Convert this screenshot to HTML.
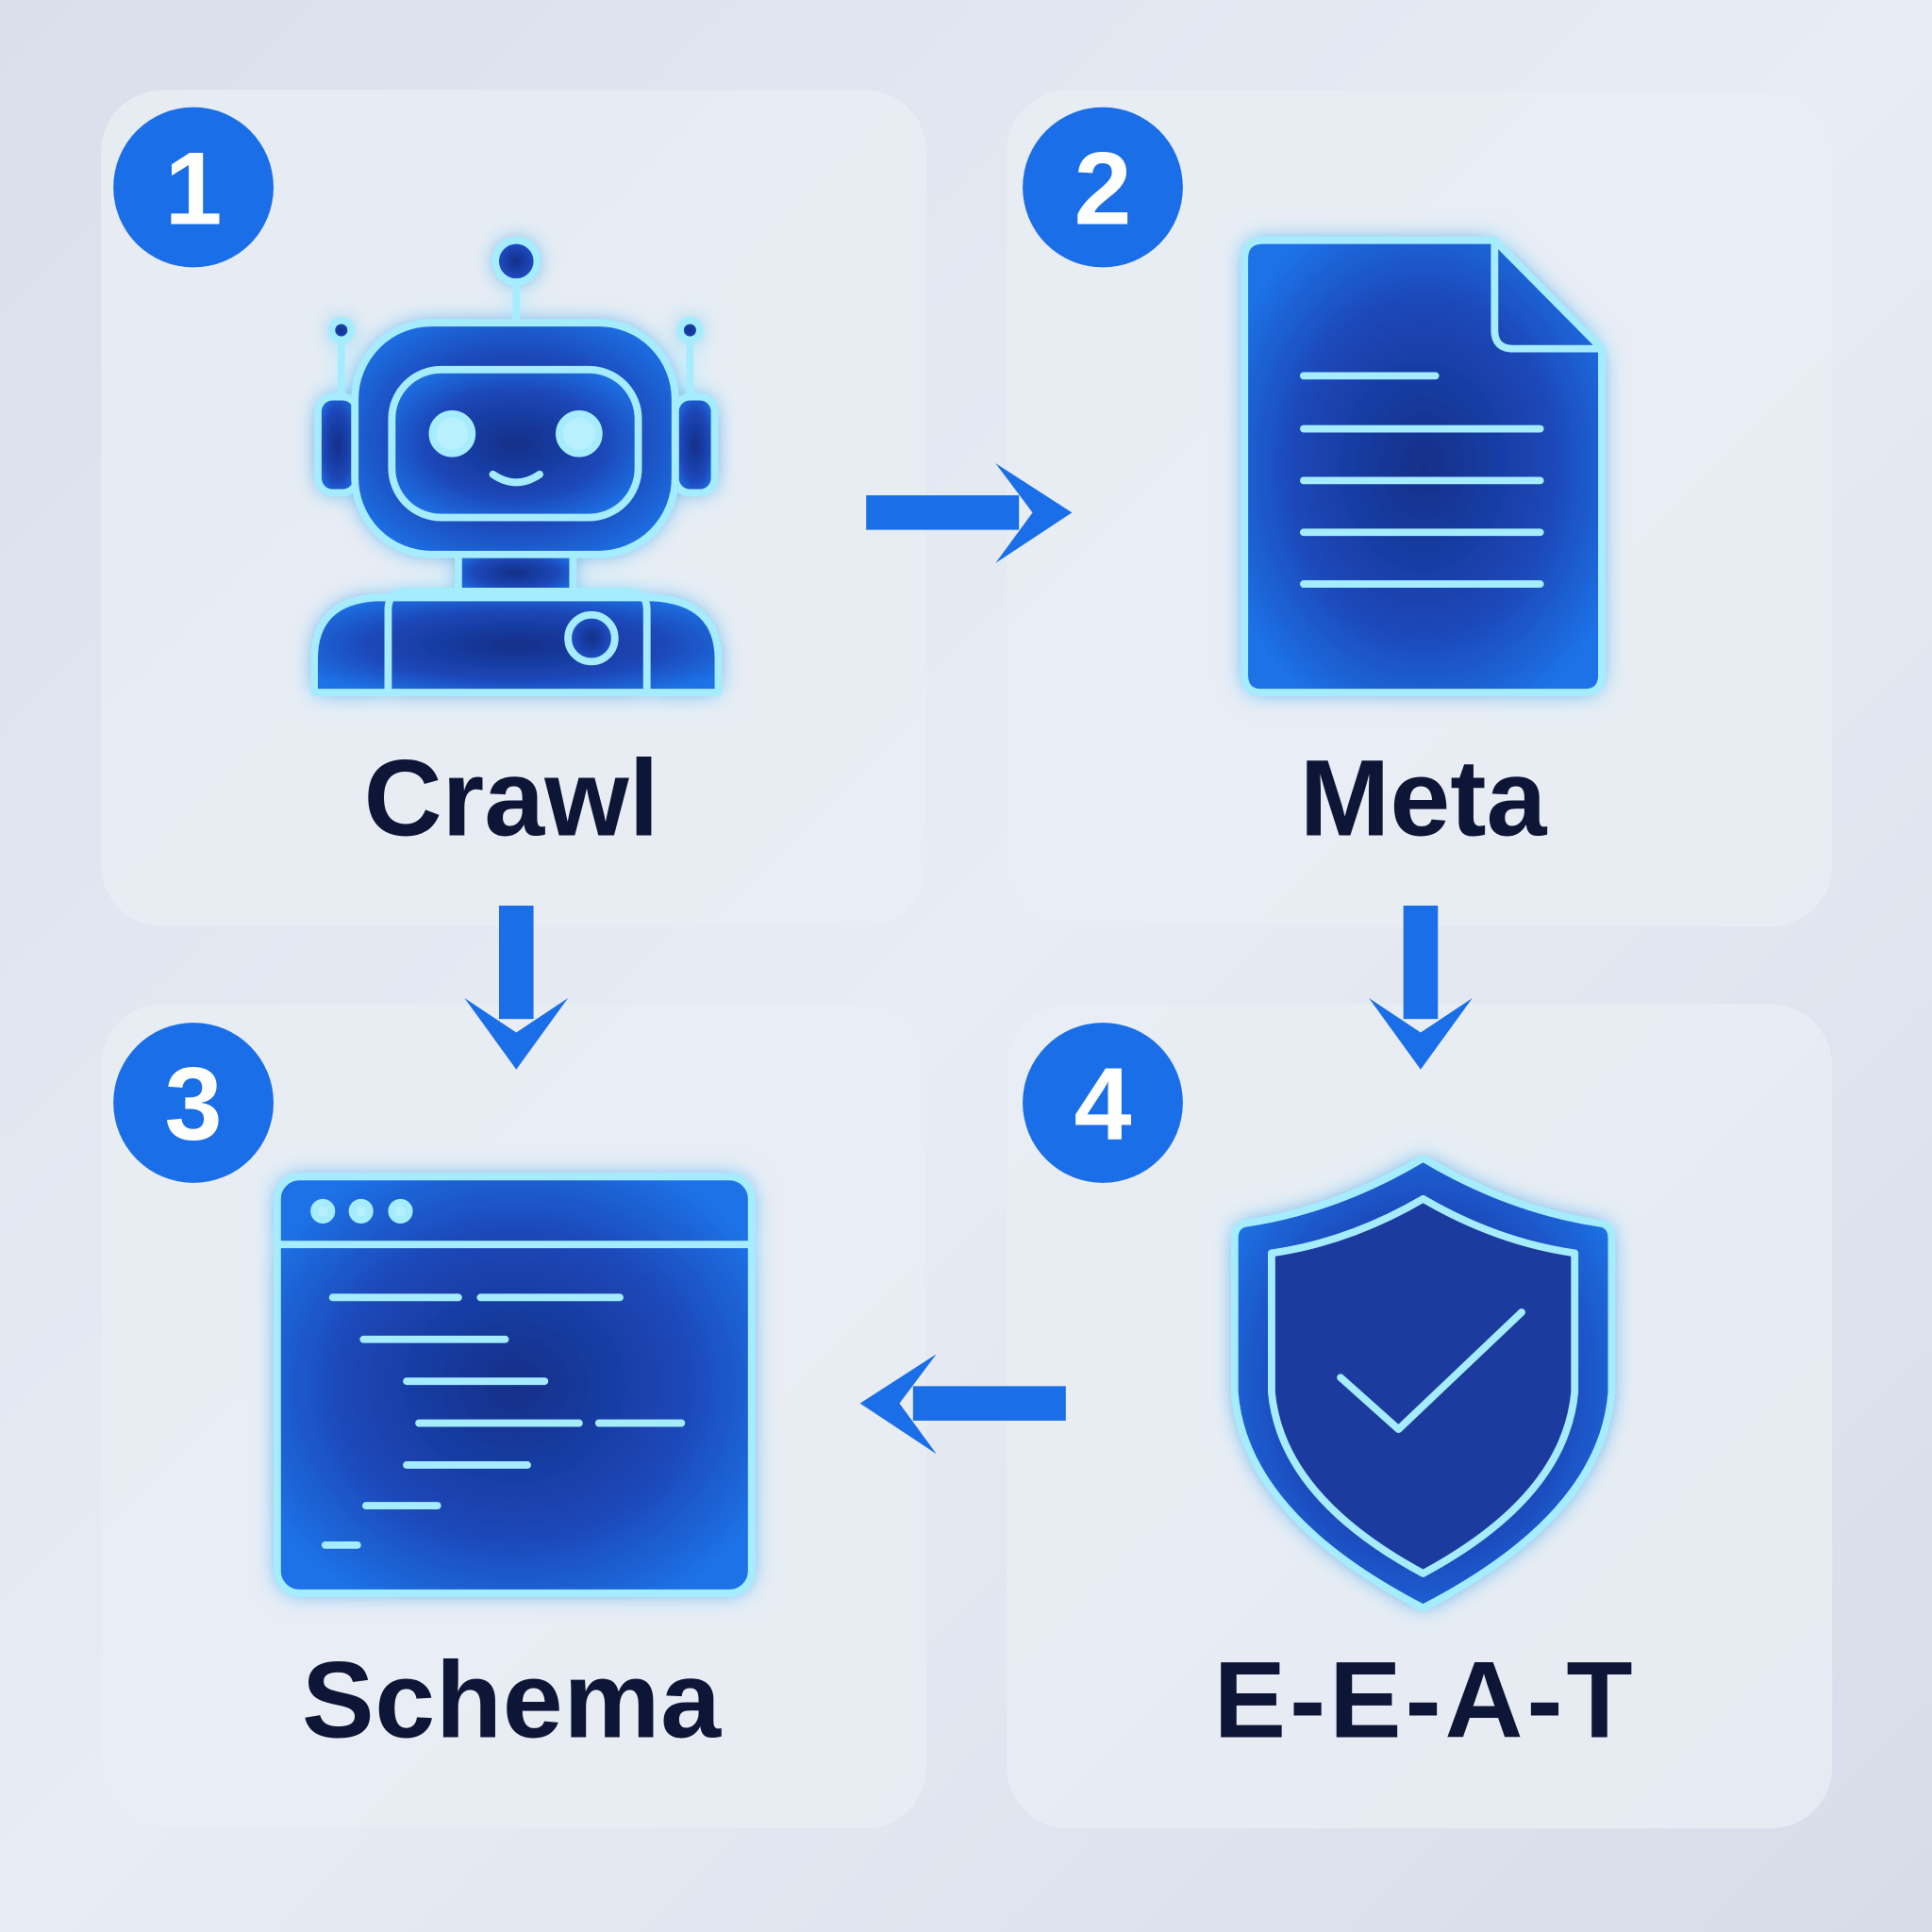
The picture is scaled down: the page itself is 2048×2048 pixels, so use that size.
<!DOCTYPE html>
<html><head><meta charset="utf-8"><style>
html,body{margin:0;padding:0;width:2048px;height:2048px;overflow:hidden;background:#dfe4ee}
svg{display:block}
</style></head><body>
<svg width="2048" height="2048" viewBox="0 0 1568 1568" xmlns="http://www.w3.org/2000/svg">
<defs>
<linearGradient id="bg" x1="0" y1="0" x2="1" y2="1">
<stop offset="0" stop-color="#d9dfeb"/><stop offset="0.5" stop-color="#e8ecf4"/><stop offset="1" stop-color="#d6dce8"/>
</linearGradient>
<radialGradient id="fill" cx="0.5" cy="0.5" r="0.6">
<stop offset="0" stop-color="#142f88"/><stop offset="0.6" stop-color="#1c47b8"/><stop offset="1" stop-color="#1a72e6"/>
</radialGradient>
<filter id="glow" x="-30%" y="-30%" width="160%" height="160%">
<feGaussianBlur in="SourceGraphic" stdDeviation="9" result="b"/>
<feMerge><feMergeNode in="b"/><feMergeNode in="SourceGraphic"/></feMerge>
</filter>
</defs>
<rect width="1568" height="1568" fill="url(#bg)"/>
<g fill="#e9edf5" opacity="0.85">
<rect x="82" y="73" width="670" height="679" rx="50"/>
<rect x="817" y="73" width="670" height="679" rx="50"/>
<rect x="82" y="815" width="670" height="669" rx="50"/>
<rect x="817" y="815" width="670" height="669" rx="50"/>
</g>

<g fill="#1a6ee8">
<circle cx="157" cy="152" r="65"/><circle cx="895" cy="152" r="65"/>
<circle cx="157" cy="895" r="65"/><circle cx="895" cy="895" r="65"/>
</g>
<g fill="#fff" font-family="Liberation Sans, sans-serif" font-weight="bold" font-size="84" text-anchor="middle">
<text x="157" y="182">1</text><text x="895" y="182">2</text>
<text x="157" y="925">3</text><text x="895" y="925">4</text>
</g>

<g fill="#0d1637" font-family="Liberation Sans, sans-serif" font-weight="bold" font-size="88" text-anchor="middle">
<text x="415" y="678">Crawl</text>
<text x="1155" y="678">Meta</text>
<text x="415" y="1410" textLength="340">Schema</text>
<text x="1155" y="1410" textLength="340">E-E-A-T</text>
</g>

<g fill="#1a6ee8">
<rect x="703" y="402" width="124" height="28"/>
<polygon points="808,376 870,416 808,457 838,416"/>
<rect x="405" y="735" width="28" height="92"/>
<polygon points="377,810 419,868 461,810 419,838"/>
<rect x="1139" y="735" width="28" height="92"/>
<polygon points="1111,810 1153,868 1195,810 1153,838"/>
<rect x="741" y="1125" width="124" height="28"/>
<polygon points="760,1099 698,1139 760,1180 730,1139"/>
</g>

<g stroke="#a6ecff" stroke-width="6" fill="url(#fill)" stroke-linejoin="round" stroke-linecap="round" filter="url(#glow)">
<line x1="419" y1="228" x2="419" y2="262" fill="none"/>
<circle cx="419" cy="212" r="17"/>
<line x1="277" y1="276" x2="277" y2="322" fill="none"/>
<circle cx="277" cy="268" r="8"/>
<line x1="560" y1="276" x2="560" y2="322" fill="none"/>
<circle cx="560" cy="268" r="8"/>
<rect x="258" y="322" width="32" height="78" rx="12"/>
<rect x="548" y="322" width="32" height="78" rx="12"/>
<rect x="372" y="448" width="93" height="34"/>
<path d="M255,562 L255,535 Q255,488 305,485 L530,485 Q583,488 583,535 L583,562 Z"/>
<path d="M315,562 L315,495 Q315,480 330,480 L510,480 Q525,480 525,495 L525,562" fill="none"/>
<circle cx="480" cy="518" r="19"/>
<rect x="288" y="262" width="260" height="188" rx="62"/>
<rect x="318" y="300" width="200" height="120" rx="40"/>
<circle cx="367" cy="352" r="16" fill="#b8f0ff"/>
<circle cx="470" cy="352" r="16" fill="#b8f0ff"/>
<path d="M400,385 Q419,398 438,385" fill="none"/>

<path d="M1025,195 L1213,195 L1300,283 L1300,548 Q1300,562 1286,562 L1024,562 Q1010,562 1010,548 L1010,210 Q1010,195 1025,195 Z"/>
<path d="M1213,195 L1213,268 Q1213,283 1228,283 L1300,283" fill="none"/>
<g fill="none">
<line x1="1058" y1="305" x2="1165" y2="305"/>
<line x1="1058" y1="348" x2="1250" y2="348"/>
<line x1="1058" y1="390" x2="1250" y2="390"/>
<line x1="1058" y1="432" x2="1250" y2="432"/>
<line x1="1058" y1="474" x2="1250" y2="474"/>
</g>

<rect x="225" y="955" width="385" height="338" rx="18"/>
<line x1="225" y1="1010" x2="610" y2="1010" fill="none"/>
<circle cx="262" cy="983" r="7" fill="#b8f0ff"/>
<circle cx="293" cy="983" r="7" fill="#b8f0ff"/>
<circle cx="325" cy="983" r="7" fill="#b8f0ff"/>
<g fill="none">
<line x1="270" y1="1053" x2="372" y2="1053"/>
<line x1="390" y1="1053" x2="503" y2="1053"/>
<line x1="295" y1="1087" x2="410" y2="1087"/>
<line x1="330" y1="1121" x2="442" y2="1121"/>
<line x1="340" y1="1155" x2="470" y2="1155"/>
<line x1="486" y1="1155" x2="553" y2="1155"/>
<line x1="330" y1="1189" x2="428" y2="1189"/>
<line x1="297" y1="1222" x2="355" y2="1222"/>
<line x1="264" y1="1254" x2="290" y2="1254"/>
</g>

<path d="M1155,940 Q1225,982 1300,993 Q1308,995 1308,1005 L1308,1130 Q1300,1230 1155,1305 Q1010,1230 1002,1130 L1002,1005 Q1002,995 1010,993 Q1085,982 1155,940 Z"/>
<path d="M1155,973 Q1215,1008 1278,1017 L1278,1130 Q1270,1215 1155,1277 Q1040,1215 1032,1130 L1032,1017 Q1095,1008 1155,973 Z" fill="#1a3a9e"/>
<polyline points="1088,1118 1135,1160 1235,1065" fill="none"/>
</g>
</svg>
</body></html>
